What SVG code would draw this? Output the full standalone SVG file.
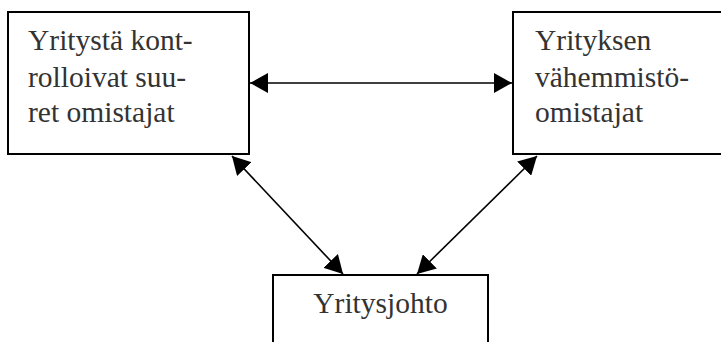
<svg xmlns="http://www.w3.org/2000/svg" width="721" height="342" viewBox="0 0 721 342">
<style>
.box{fill:#fff;stroke:#000;stroke-width:2}
.lbl{font-family:'Liberation Serif','DejaVu Serif',serif;font-size:29.5px;fill:#333}
.con{stroke:#000;stroke-width:1.6;fill:none}
</style>
<defs>
<marker id="ah" viewBox="0 0 18 20" refX="18" refY="10" markerWidth="18" markerHeight="20" markerUnits="userSpaceOnUse" orient="auto-start-reverse">
<path d="M0,0 L18,10 L0,20 Z" fill="#000"/>
</marker>
</defs>
<rect width="721" height="342" fill="#fff"/>
<g id="node-owners">
<rect class="box" x="8" y="12" width="241" height="142"/>
<text class="lbl" x="28" y="50">Yritystä kont-</text>
<text class="lbl" x="28" y="87">rolloivat suu-</text>
<text class="lbl" x="28" y="122">ret omistajat</text>
</g>
<g id="node-minority">
<rect class="box" x="513" y="12" width="220" height="142"/>
<text class="lbl" x="535" y="50">Yrityksen</text>
<text class="lbl" x="535" y="87">vähemmistö-</text>
<text class="lbl" x="535" y="122">omistajat</text>
</g>
<g id="node-management">
<rect class="box" x="273" y="275" width="215" height="80"/>
<text class="lbl" x="380.5" y="313" text-anchor="middle">Yritysjohto</text>
</g>
<g id="connectors">
<line class="con" x1="250" y1="83" x2="512" y2="83" marker-start="url(#ah)" marker-end="url(#ah)"/>
<line class="con" x1="232" y1="156" x2="343" y2="274" marker-start="url(#ah)" marker-end="url(#ah)"/>
<line class="con" x1="537" y1="156" x2="417" y2="274" marker-start="url(#ah)" marker-end="url(#ah)"/>
</g>
</svg>
